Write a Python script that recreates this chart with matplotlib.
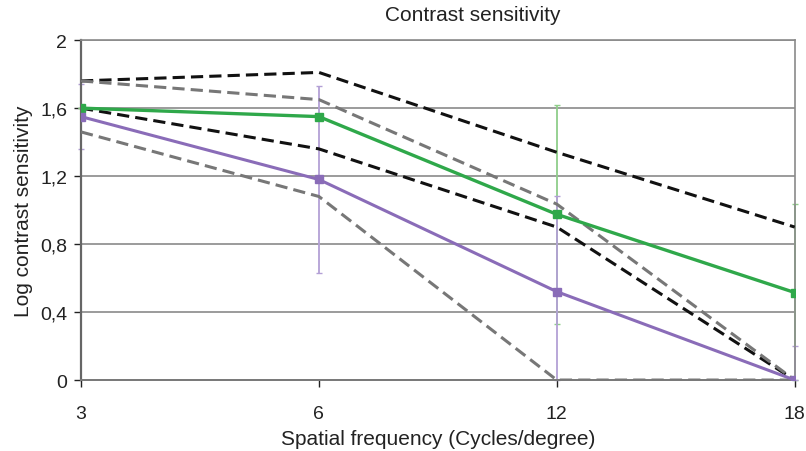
import matplotlib
matplotlib.use("Agg")
import matplotlib.pyplot as plt

plt.rcParams['font.family'] = ['Liberation Sans', 'DejaVu Sans']

# spatial frequencies (equally spaced categories)
freqs = ["3", "6", "12", "18"]

# mean curves
green = [1.60, 1.55, 0.975, 0.515]
purple = [1.55, 1.18, 0.52, 0.0]
green_err = [0.0, 0.0, 0.645, 0.52]
purple_err = [0.19, 0.55, 0.56, 0.20]

# reference limits (dashed)
black_hi = [1.76, 1.81, 1.34, 0.90]
black_lo = [1.60, 1.36, 0.90, 0.0]
gray_hi = [1.76, 1.65, 1.035, 0.0]
gray_lo = [1.46, 1.08, 0.0, 0.0]

yticks = [0, 0.4, 0.8, 1.2, 1.6, 2]
ytick_labels = ["0", "0,4", "0,8", "1,2", "1,6", "2"]


def clipped(vals, errs):
    # error bars stop at the x axis
    lower = [min(e, v) for v, e in zip(vals, errs)]
    return [lower, errs]


def main():
    fig = plt.figure(figsize=(8.06, 4.52), dpi=100)
    ax = fig.add_axes([0.1005, 0.157, 0.8855, 0.752])
    x = list(range(len(freqs)))

    for yv in yticks[1:]:
        ax.axhline(yv, color="#8a8a8a", lw=1.2, zorder=1)

    dash = (4, 2)
    ax.plot(x, black_hi, color="#111111", lw=2.2, ls=(0, dash), zorder=3)
    ax.plot(x, black_lo, color="#111111", lw=2.2, ls=(0, dash), zorder=3)
    ax.plot(x, gray_hi, color="#777777", lw=2.2, ls=(0, dash), zorder=3)
    ax.plot(x, gray_lo, color="#777777", lw=2.2, ls=(0, dash), zorder=3)

    eg = ax.errorbar(x, green, yerr=clipped(green, green_err), fmt="none",
                     ecolor="#8fce8a", elinewidth=1.3, capsize=2, zorder=2)
    ep = ax.errorbar(x, purple, yerr=clipped(purple, purple_err), fmt="none",
                     ecolor="#b3a0d6", elinewidth=1.3, capsize=2, zorder=2)
    for cont in (eg, ep):
        for art in cont.lines[1] + cont.lines[2]:
            art.set_clip_on(False)

    ax.plot(x, green, color="#2fa84a", lw=2.4, marker="s", ms=6, zorder=4)
    ax.plot(x, purple, color="#8a6cb8", lw=2.2, marker="s", ms=6, zorder=4)

    ax.set_xlim(0, 3)
    ax.set_ylim(0, 2)
    ax.set_xticks(x)
    ax.set_xticklabels(freqs)
    ax.set_yticks(yticks)
    ax.set_yticklabels(ytick_labels)
    ax.tick_params(axis="both", labelsize=14, colors="#222222",
                   length=5, width=1, pad=5)
    ax.tick_params(axis="x", pad=13)

    for side in ["top", "right"]:
        ax.spines[side].set_color("#8a8a8a")
        ax.spines[side].set_linewidth(1.2)
    ax.spines["left"].set_color("#666666")
    ax.spines["left"].set_linewidth(1.6)
    ax.spines["bottom"].set_color("#777777")
    ax.spines["bottom"].set_linewidth(1.4)

    ax.set_xlabel("Spatial frequency (Cycles/degree)", fontsize=15,
                  color="#222222", labelpad=5)
    ax.set_ylabel("Log contrast sensitivity", fontsize=15,
                  color="#222222", labelpad=5)
    fig.text(0.586, 0.965, "Contrast sensitivity", fontsize=15,
             color="#222222", ha="center", va="center")

    fig.savefig("out.png", dpi=100)


main()
